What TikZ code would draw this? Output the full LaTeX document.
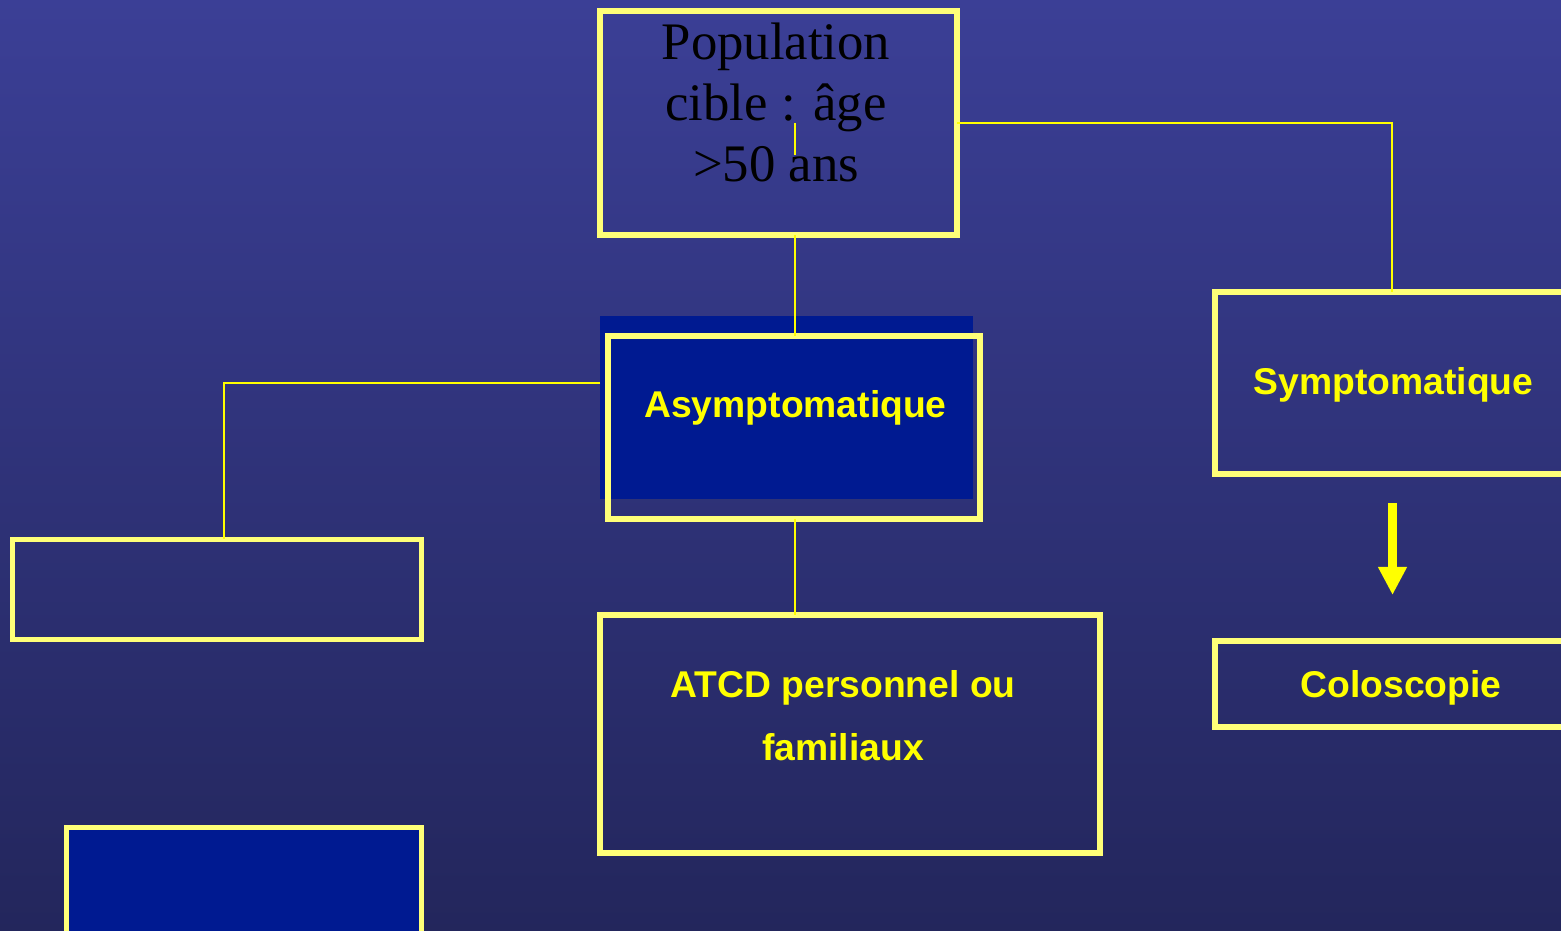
\documentclass[tikz,border=0pt]{standalone}
\usepackage{fontspec}
\setmainfont{Liberation Serif}
\setsansfont{Liberation Sans}
\usetikzlibrary{arrows.meta}
\definecolor{bgtop}{RGB}{59,63,150}
\definecolor{bgbot}{RGB}{35,38,92}
\definecolor{boxyel}{RGB}{255,255,120}
\definecolor{lineyel}{RGB}{255,255,0}
\definecolor{darkfill}{RGB}{0,26,145}
\tikzset{
  box/.style={rectangle, draw=boxyel, line width=0.055cm, inner sep=0pt, outer sep=0pt},
  conn/.style={draw=lineyel, line width=0.02cm},
  lab/.style={text=lineyel, font=\sffamily\bfseries\fontsize{10.6}{17.9}\selectfont, inner sep=0pt, align=center},
  serlab/.style={text=black, font=\fontsize{15}{17.4}\selectfont, inner sep=0pt, align=center},
}
\begin{document}
\begin{tikzpicture}[x=0.01cm,y=-0.01cm]
\useasboundingbox (0,0) rectangle (1561,931);
\clip (0,0) rectangle (1561,931);
\shade[top color=bgtop, bottom color=bgbot] (0,0) rectangle (1561,931);

% boxes
\node[box, minimum width=3.57cm, minimum height=2.24cm] (top) at (778.5,123) {};
\node[rectangle, fill=darkfill, inner sep=0pt, minimum width=3.73cm, minimum height=1.83cm] (asyfill) at (786.5,407.5) {};
\node[box, minimum width=3.72cm, minimum height=1.83cm] (asy) at (794,427.5) {};
\node[box, minimum width=4.09cm, minimum height=1.00cm] (left) at (217,589.5) {};
\node[box, minimum width=3.65cm, minimum height=1.82cm] (sympt) at (1397.5,383) {};
\node[box, minimum width=3.65cm, minimum height=0.86cm] (colo) at (1397.5,684) {};
\node[box, minimum width=5.00cm, minimum height=2.38cm] (atcd) at (850,734) {};
\node[box, fill=darkfill, minimum width=3.55cm, minimum height=1.60cm] (bottom) at (244,907.5) {};

% texts
\node[serlab, anchor=north] (toptext) at (776,22) {Population\\cible : âge\\>50 ans};
\node[lab, anchor=base] (asytext) at (795.5,418) {Asymptomatique};
\node[lab, anchor=base] (symtext) at (1393.5,395) {Symptomatique};
\node[lab, anchor=base] (colotext) at (1401,697) {Coloscopie};
\node[lab, anchor=north] (atcdtext) at (843,670) {ATCD personnel ou\\familiaux};

% connectors
\coordinate (tinA) at (794.5,123);
\coordinate (tinB) at (794.5,155);
\draw[conn] (tinA) -- (tinB);
\draw[conn] (top.south -| tinA) -- (asy.north -| tinA);
\coordinate (symtop) at (1392,292);
\draw[conn] (top.east) -| (symtop);
\coordinate (lstart) at (600,383);
\coordinate (ltop) at (224,539.5);
\draw[conn] (lstart) -| (ltop);
\draw[conn] (asy.south -| tinA) -- (atcd.north -| tinA);

% arrow
\coordinate (arrs) at (1392.5,503);
\coordinate (arre) at (1392.5,595);
\draw[draw=lineyel, line width=0.085cm, -{Triangle[width=0.27cm,length=0.28cm]}] (arrs) -- (arre);
\end{tikzpicture}
\end{document}
